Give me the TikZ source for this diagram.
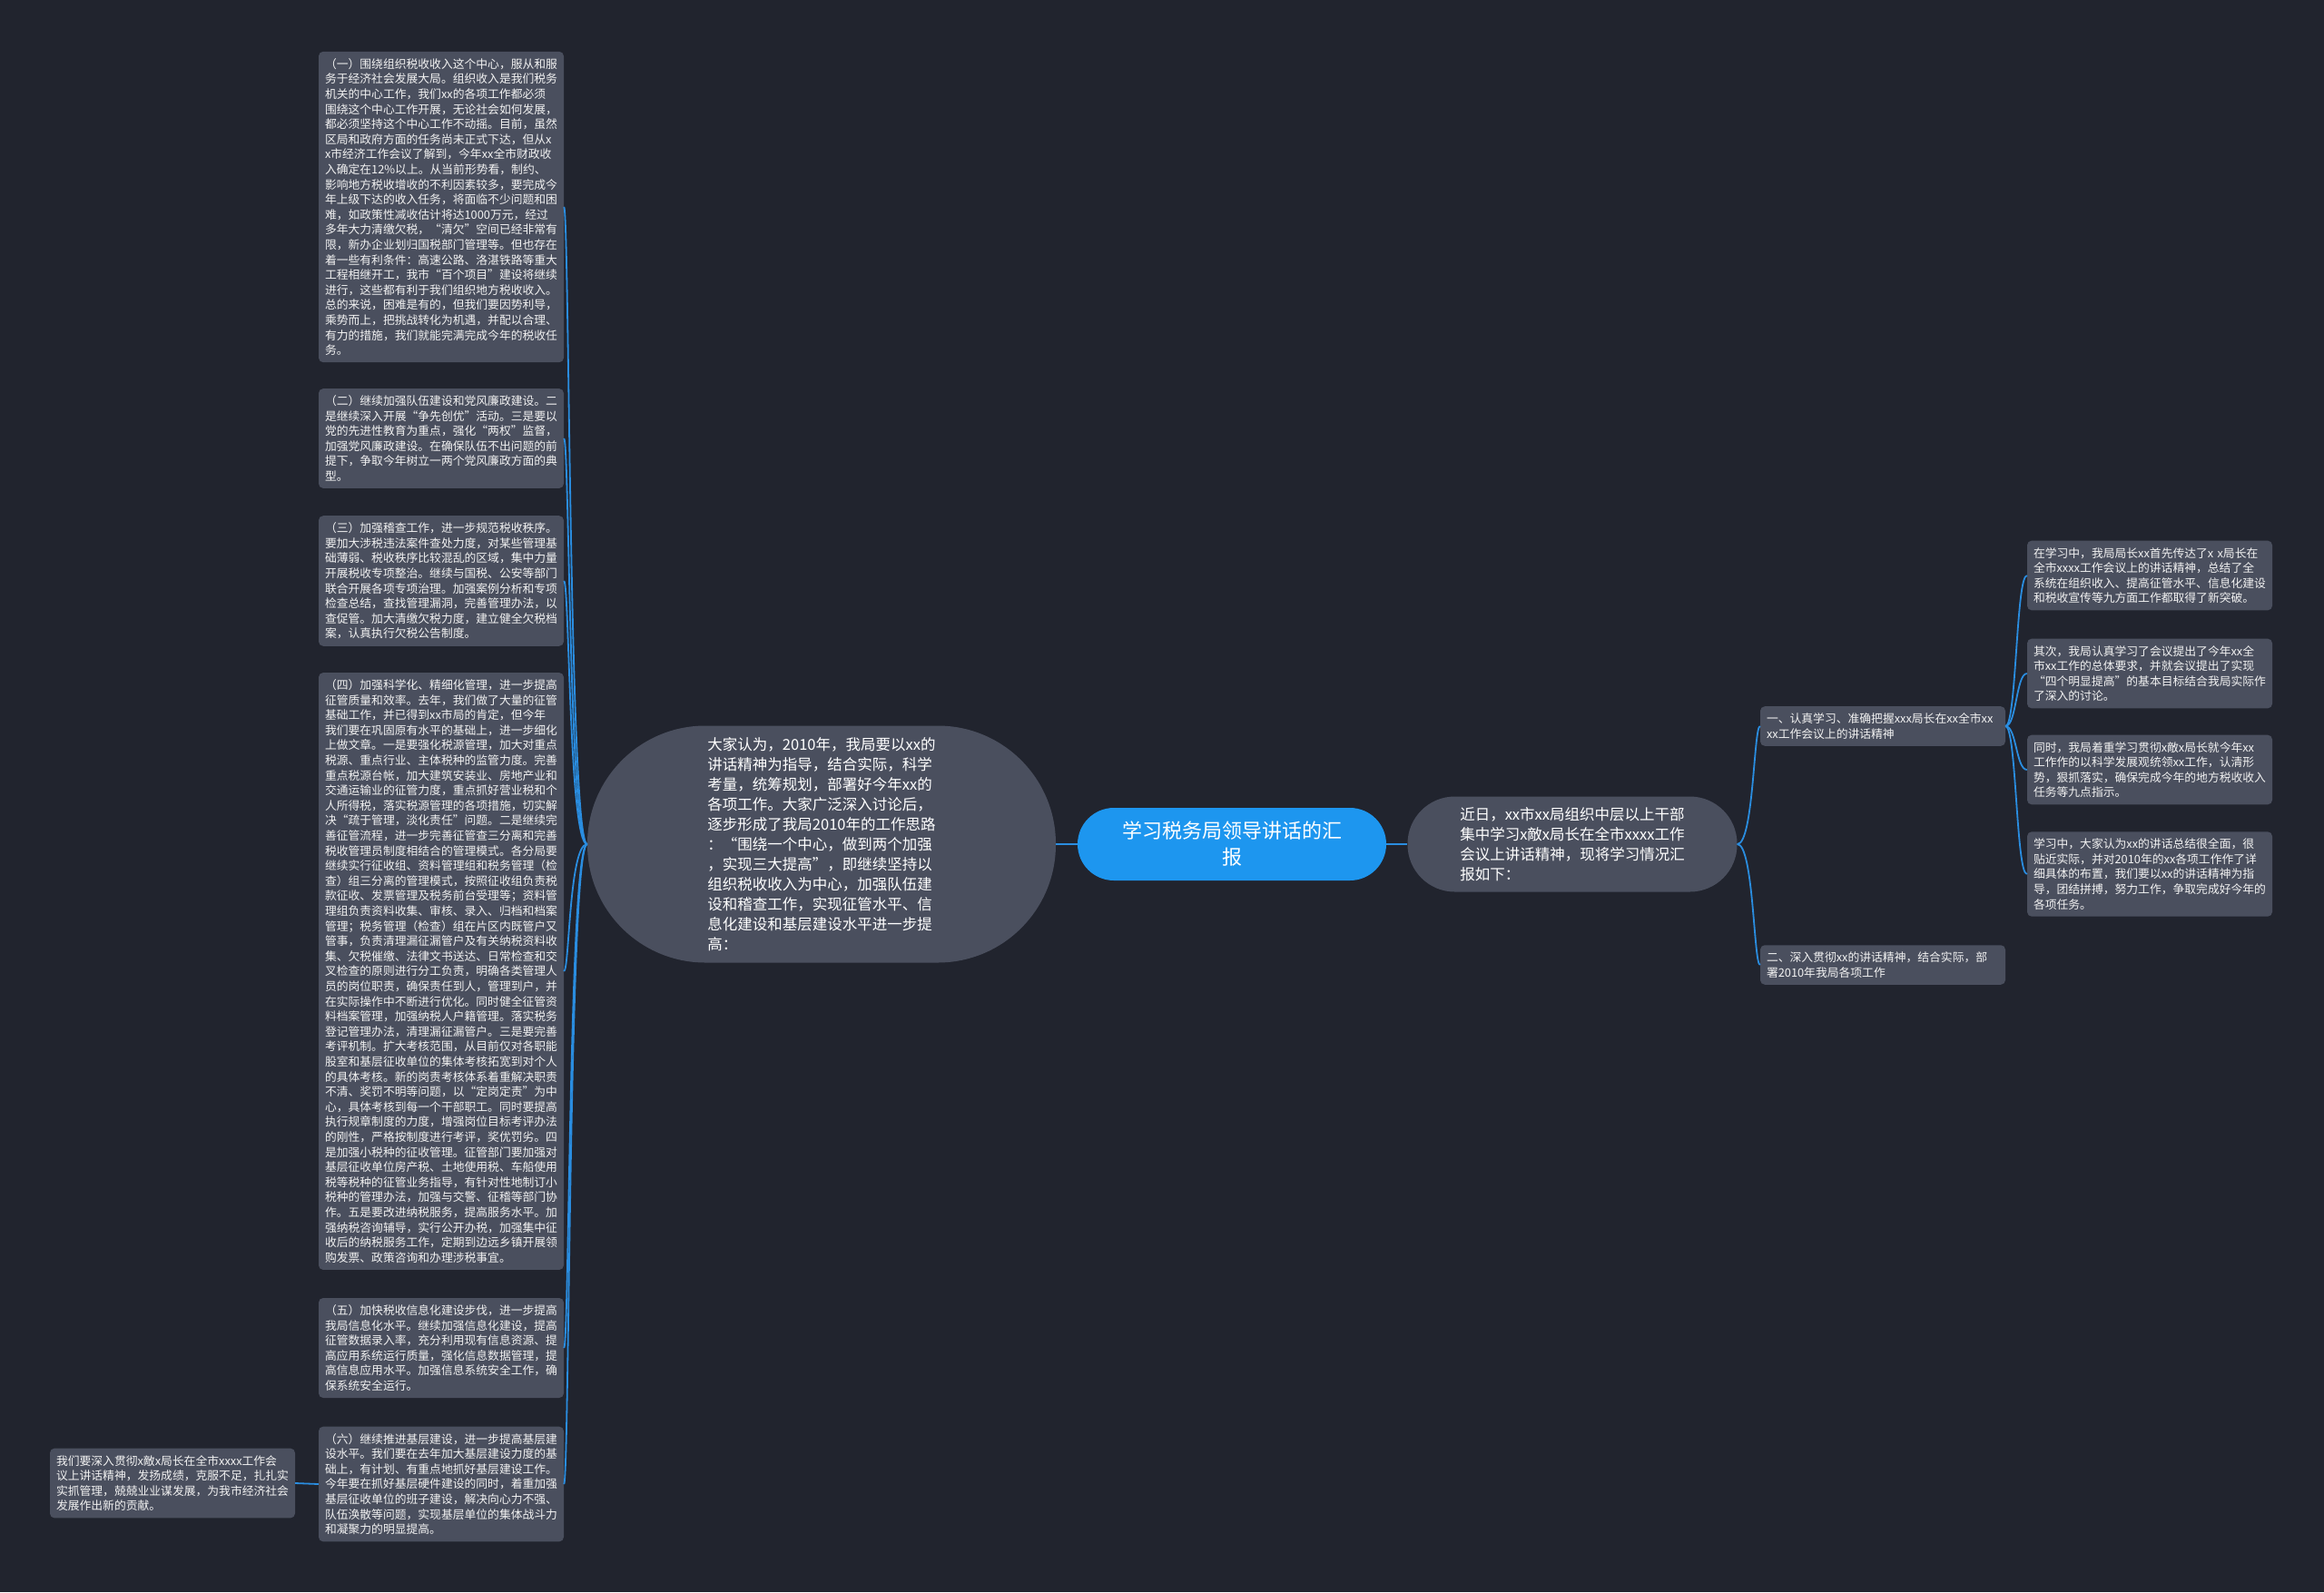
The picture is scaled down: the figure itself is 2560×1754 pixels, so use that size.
\documentclass[tikz,border=0pt]{standalone}
\usepackage{fontspec}
\setmainfont{Noto Sans CJK SC}
\definecolor{bgDark}{HTML}{21242E}
\definecolor{nodeGray}{HTML}{4A4F5E}
\definecolor{rootBlue}{HTML}{1D96EF}
\definecolor{linkBlue}{HTML}{2A8DE0}

\begin{document}
\begin{tikzpicture}[x=1pt,y=-1pt,
  link/.style={linkBlue,line width=1.8pt},
  leaf/.style={fill=nodeGray,rounded corners=5pt,text=white!95!black,align=left,
    text width=256pt,inner xsep=7pt,inner ysep=7.5pt,font=\fontsize{12.8}{16.6}\selectfont},
  topic/.style={fill=nodeGray,text=white,align=left,font=\fontsize{16.5}{22}\selectfont}]
  \fill[bgDark] (0,0) rectangle (2560,1754);

  % centre of the map
  \node[fill=rootBlue,text=white,align=center,rounded corners=40pt,minimum width=340pt,
    minimum height=80pt,font=\fontsize{22}{29}\selectfont] (root) at (1357,930)
    {学习税务局领导讲话的汇\\报};
  \node[topic,rounded corners=130pt,minimum width=516pt,minimum height=261pt] (mid) at (905,930)
    {大家认为，2010年，我局要以xx的\\讲话精神为指导，结合实际，科学\\考量，统筹规划，部署好今年xx的\\各项工作。大家广泛深入讨论后，\\逐步形成了我局2010年的工作思路\\：“围绕一个中心，做到两个加强\\，实现三大提高”，即继续坚持以\\组织税收收入为中心，加强队伍建\\设和稽查工作，实现征管水平、信\\息化建设和基层建设水平进一步提\\高：};
  \node[topic,rounded corners=52pt,minimum width=363pt,minimum height=105pt] (intro) at (1732,930)
    {近日，xx市xx局组织中层以上干部\\集中学习x敵x局长在全市xxxx工作\\会议上讲话精神，现将学习情况汇\\报如下：};

  % left side
  \node[leaf] (b1) at (486,228)
    {（一）围绕组织税收收入这个中心，服从和服\\务于经济社会发展大局。组织收入是我们税务\\机关的中心工作，我们xx的各项工作都必须\\围绕这个中心工作开展，无论社会如何发展，\\都必须坚持这个中心工作不动摇。目前，虽然\\区局和政府方面的任务尚未正式下达，但从x\\x市经济工作会议了解到，今年xx全市财政收\\入确定在12\%以上。从当前形势看，制约、\\影响地方税收增收的不利因素较多，要完成今\\年上级下达的收入任务，将面临不少问题和困\\难，如政策性减收估计将达1000万元，经过\\多年大力清缴欠税，“清欠”空间已经非常有\\限，新办企业划归国税部门管理等。但也存在\\着一些有利条件：高速公路、洛湛铁路等重大\\工程相继开工，我市“百个项目”建设将继续\\进行，这些都有利于我们组织地方税收收入。\\总的来说，困难是有的，但我们要因势利导，\\乘势而上，把挑战转化为机遇，并配以合理、\\有力的措施，我们就能完满完成今年的税收任\\务。};
  \node[leaf] (b2) at (486,483)
    {（二）继续加强队伍建设和党风廉政建设。二\\是继续深入开展“争先创优”活动。三是要以\\党的先进性教育为重点，强化“两权”监督，\\加强党风廉政建设。在确保队伍不出问题的前\\提下，争取今年树立一两个党风廉政方面的典\\型。};
  \node[leaf] (b3) at (486,640)
    {（三）加强稽查工作，进一步规范税收秩序。\\要加大涉税违法案件查处力度，对某些管理基\\础薄弱、税收秩序比较混乱的区域，集中力量\\开展税收专项整治。继续与国税、公安等部门\\联合开展各项专项治理。加强案例分析和专项\\检查总结，查找管理漏洞，完善管理办法，以\\查促管。加大清缴欠税力度，建立健全欠税档\\案，认真执行欠税公告制度。};
  \node[leaf] (b4) at (486,1070)
    {（四）加强科学化、精细化管理，进一步提高\\征管质量和效率。去年，我们做了大量的征管\\基础工作，并已得到xx市局的肯定，但今年\\我们要在巩固原有水平的基础上，进一步细化\\上做文章。一是要强化税源管理，加大对重点\\税源、重点行业、主体税种的监管力度。完善\\重点税源台帐，加大建筑安装业、房地产业和\\交通运输业的征管力度，重点抓好营业税和个\\人所得税，落实税源管理的各项措施，切实解\\决“疏于管理，淡化责任”问题。二是继续完\\善征管流程，进一步完善征管查三分离和完善\\税收管理员制度相结合的管理模式。各分局要\\继续实行征收组、资料管理组和税务管理（检\\查）组三分离的管理模式，按照征收组负责税\\款征收、发票管理及税务前台受理等；资料管\\理组负责资料收集、审核、录入、归档和档案\\管理；税务管理（检查）组在片区内既管户又\\管事，负责清理漏征漏管户及有关纳税资料收\\集、欠税催缴、法律文书送达、日常检查和交\\叉检查的原则进行分工负责，明确各类管理人\\员的岗位职责，确保责任到人，管理到户，并\\在实际操作中不断进行优化。同时健全征管资\\料档案管理，加强纳税人户籍管理。落实税务\\登记管理办法，清理漏征漏管户。三是要完善\\考评机制。扩大考核范围，从目前仅对各职能\\股室和基层征收单位的集体考核拓宽到对个人\\的具体考核。新的岗责考核体系着重解决职责\\不清、奖罚不明等问题，以“定岗定责”为中\\心，具体考核到每一个干部职工。同时要提高\\执行规章制度的力度，增强岗位目标考评办法\\的刚性，严格按制度进行考评，奖优罚劣。四\\是加强小税种的征收管理。征管部门要加强对\\基层征收单位房产税、土地使用税、车船使用\\税等税种的征管业务指导，有针对性地制订小\\税种的管理办法，加强与交警、征稽等部门协\\作。五是要改进纳税服务，提高服务水平。加\\强纳税咨询辅导，实行公开办税，加强集中征\\收后的纳税服务工作，定期到边远乡镇开展领\\购发票、政策咨询和办理涉税事宜。};
  \node[leaf] (b5) at (486,1485)
    {（五）加快税收信息化建设步伐，进一步提高\\我局信息化水平。继续加强信息化建设，提高\\征管数据录入率，充分利用现有信息资源、提\\高应用系统运行质量，强化信息数据管理，提\\高信息应用水平。加强信息系统安全工作，确\\保系统安全运行。};
  \node[leaf] (b6) at (486,1635)
    {（六）继续推进基层建设，进一步提高基层建\\设水平。我们要在去年加大基层建设力度的基\\础上，有计划、有重点地抓好基层建设工作。\\今年要在抓好基层硬件建设的同时，着重加强\\基层征收单位的班子建设，解决向心力不强、\\队伍涣散等问题，实现基层单位的集体战斗力\\和凝聚力的明显提高。};
  \node[leaf] (far) at (190,1634)
    {我们要深入贯彻x敵x局长在全市xxxx工作会\\议上讲话精神，发扬成绩，克服不足，扎扎实\\实抓管理，兢兢业业谋发展，为我市经济社会\\发展作出新的贡献。};

  % right side
  \node[leaf] (br1) at (2074,800)
    {一、认真学习、准确把握xxx局长在xx全市xx\\xx工作会议上的讲话精神};
  \node[leaf] (br2) at (2074,1063)
    {二、深入贯彻xx的讲话精神，结合实际，部\\署2010年我局各项工作};
  \node[leaf] (r1) at (2368,634)
    {在学习中，我局局长xx首先传达了x x局长在\\全市xxxx工作会议上的讲话精神，总结了全\\系统在组织收入、提高征管水平、信息化建设\\和税收宣传等九方面工作都取得了新突破。};
  \node[leaf] (r2) at (2368,742)
    {其次，我局认真学习了会议提出了今年xx全\\市xx工作的总体要求，并就会议提出了实现\\“四个明显提高”的基本目标结合我局实际作\\了深入的讨论。};
  \node[leaf] (r3) at (2368,848)
    {同时，我局着重学习贯彻x敵x局长就今年xx\\工作作的以科学发展观统领xx工作，认清形\\势，狠抓落实，确保完成今年的地方税收收入\\任务等九点指示。};
  \node[leaf] (r4) at (2368,963)
    {学习中，大家认为xx的讲话总结很全面，很\\贴近实际，并对2010年的xx各项工作作了详\\细具体的布置，我们要以xx的讲话精神为指\\导，团结拼搏，努力工作，争取完成好今年的\\各项任务。};

  % connectors
  \draw[link] (root.west) -- (mid.east);
  \draw[link] (root.east) -- (intro.west);
  \foreach \b in {b1,b2,b3,b4,b5,b6}
    \draw[link] (mid.west) .. controls +(-20,0) and +(6,0) .. (\b.east);
  \draw[link] (b6.west) -- (far.east);
  \foreach \b in {br1,br2}
    \draw[link] (intro.east) .. controls +(18,0) and +(-7,0) .. (\b.west);
  \foreach \i in {1,...,4}
    \draw[link] (br1.east) .. controls +(12,0) and +(-12,0) .. (r\i.west);
\end{tikzpicture}
\end{document}
